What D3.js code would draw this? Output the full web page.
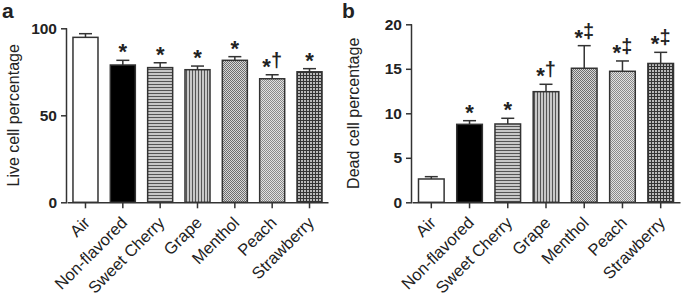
<!DOCTYPE html>
<html>
<head>
<meta charset="utf-8">
<script src="https://cdn.jsdelivr.net/npm/d3@7"></script>
<style>
  body { margin: 0; background: #fff; }
  svg { display: block; font-family: Arial, "Liberation Sans", sans-serif; }
</style>
</head>
<body>
<svg id="chart" width="685" height="297"></svg>
<script>
// cell viability per e-liquid flavour, two panels
const categories = ['Air', 'Non-flavored', 'Sweet Cherry', 'Grape', 'Menthol', 'Peach', 'Strawberry'];
const liveMean = [94.8, 78.9, 77.4, 76.2, 81.6, 71.0, 75.0];
const liveErr  = [2.1, 2.7, 2.8, 2.1, 2.1, 2.3, 1.8];
const liveSig  = ['', '*', '*', '*', '*', '*\u2020', '*'];
const liveTicks = [0, 50, 100];

const deadMean = [2.62, 8.76, 8.8, 12.43, 15.06, 14.72, 15.6];
const deadErr  = [0.26, 0.41, 0.64, 0.83, 2.54, 1.16, 1.25];
const deadSig  = ['', '*', '*', '*\u2020', '*\u2021', '*\u2021', '*\u2021'];
const deadTicks = [0, 5, 10, 15, 20];

const fills = ['#fff', '#000', 'url(#hstripe)', 'url(#vstripe)', 'url(#checkDark)', 'url(#checkLight)', 'url(#grid)'];
const INK = '#222';
const EDGE = '#333';
const FONT = 'Arial, "Liberation Sans", sans-serif';

const svg = d3.select('#chart');
const defs = svg.append('defs');

// horizontal stripes
let p = defs.append('pattern').attr('id', 'hstripe').attr('patternUnits', 'userSpaceOnUse')
    .attr('width', 4).attr('height', 3);
p.append('rect').attr('width', 4).attr('height', 3).attr('fill', '#c8c8c8');
p.append('rect').attr('width', 4).attr('height', 1).attr('fill', '#555');

// vertical stripes
p = defs.append('pattern').attr('id', 'vstripe').attr('patternUnits', 'userSpaceOnUse')
    .attr('width', 3).attr('height', 4);
p.append('rect').attr('width', 3).attr('height', 4).attr('fill', '#c8c8c8');
p.append('rect').attr('width', 1).attr('height', 4).attr('fill', '#555');

// fine checks
[['checkDark', '#6e6e6e', '#d8d8d8'], ['checkLight', '#8a8a8a', '#e2e2e2']].forEach(([id, a, b]) => {
    const c = defs.append('pattern').attr('id', id).attr('patternUnits', 'userSpaceOnUse')
        .attr('width', 2).attr('height', 2);
    c.append('rect').attr('width', 2).attr('height', 2).attr('fill', b);
    c.append('rect').attr('width', 1).attr('height', 1).attr('fill', a);
    c.append('rect').attr('x', 1).attr('y', 1).attr('width', 1).attr('height', 1).attr('fill', a);
});

// grid
p = defs.append('pattern').attr('id', 'grid').attr('patternUnits', 'userSpaceOnUse')
    .attr('width', 3).attr('height', 3);
p.append('rect').attr('width', 3).attr('height', 3).attr('fill', '#b8b8b8');
p.append('rect').attr('width', 3).attr('height', 1).attr('fill', '#333');
p.append('rect').attr('width', 1).attr('height', 3).attr('fill', '#333');

function drawPanel(opts) {
    const { letter, letterX, x0, x1, yTop, yBottom, yMax, means, errs, sigs, ticks, yLabel, labelX, padOuter } = opts;

    const x = d3.scaleBand().domain(categories).range([x0, x1])
        .paddingInner(0.33).paddingOuter(padOuter);
    const y = d3.scaleLinear().domain([0, yMax]).range([yBottom, yTop]);

    const g = svg.append('g');

    // panel letter
    g.append('text').attr('x', letterX).attr('y', 17.5)
        .attr('font-size', 21).attr('font-weight', 'bold').attr('fill', INK).text(letter);

    // y label
    g.append('text')
        .attr('transform', `translate(${labelX},${(yTop + yBottom) / 2}) rotate(-90)`)
        .attr('text-anchor', 'middle').attr('font-size', 16).attr('fill', INK).text(yLabel);

    const data = categories.map((c, i) => ({ c, m: means[i], e: errs[i], s: sigs[i], f: fills[i] }));
    const cx = d => x(d.c) + x.bandwidth() / 2;

    // error bars (upper only)
    const eb = g.append('g').attr('stroke', EDGE).attr('stroke-width', 1.5);
    eb.selectAll('line.v').data(data).join('line').attr('class', 'v')
        .attr('x1', cx).attr('x2', cx)
        .attr('y1', d => y(d.m)).attr('y2', d => y(d.m + d.e));
    eb.selectAll('line.cap').data(data).join('line').attr('class', 'cap')
        .attr('x1', d => cx(d) - 6.5).attr('x2', d => cx(d) + 6.5)
        .attr('y1', d => y(d.m + d.e)).attr('y2', d => y(d.m + d.e));

    // bars
    g.selectAll('rect.bar').data(data).join('rect').attr('class', 'bar')
        .attr('x', d => x(d.c))
        .attr('y', d => y(d.m))
        .attr('width', x.bandwidth())
        .attr('height', d => y(0) - y(d.m))
        .attr('fill', d => d.f)
        .attr('stroke', EDGE).attr('stroke-width', 1.5);

    // significance marks: star plus raised dagger
    const sig = g.selectAll('text.sig').data(data.filter(d => d.s)).join('text').attr('class', 'sig')
        .attr('x', cx)
        .attr('y', d => y(d.m + d.e) - 1)
        .attr('text-anchor', 'middle').attr('font-weight', 'bold').attr('fill', INK);
    sig.append('tspan').attr('font-size', 22).text(d => d.s[0]);
    sig.filter(d => d.s.length > 1).append('tspan')
        .attr('font-size', 20).attr('dy', -7).text(d => d.s.slice(1));

    // y axis
    const ya = g.append('g').attr('transform', `translate(${x0},0)`)
        .call(d3.axisLeft(y).tickValues(ticks).tickSize(6).tickPadding(4));
    ya.select('.domain').attr('d', `M-0.5,${yTop}V${yBottom}`);
    ya.selectAll('path, line').attr('stroke', EDGE).attr('stroke-width', 1.5);
    ya.selectAll('text').attr('font-size', 15.5).attr('font-weight', 'bold').attr('fill', INK)
        .attr('font-family', FONT);

    // x axis
    const xa = g.append('g').attr('transform', `translate(0,${yBottom})`)
        .call(d3.axisBottom(x).tickSize(6).tickSizeOuter(0));
    xa.selectAll('path, line').attr('stroke', EDGE).attr('stroke-width', 1.5);
    xa.selectAll('text')
        .attr('font-size', 16.5).attr('fill', INK)
        .attr('font-family', FONT)
        .attr('text-anchor', 'end')
        .attr('y', 0).attr('dy', 0)
        .attr('transform', 'translate(5.5,21.5) rotate(-45)');
}

drawPanel({
    letter: 'a', letterX: 2, x0: 67, x1: 328, yTop: 28.3, yBottom: 202.3, yMax: 100,
    means: liveMean, errs: liveErr, sigs: liveSig, ticks: liveTicks,
    yLabel: 'Live cell percentage', labelX: 19, padOuter: 0.16
});

drawPanel({
    letter: 'b', letterX: 342, x0: 412, x1: 680, yTop: 24.3, yBottom: 202.3, yMax: 20,
    means: deadMean, errs: deadErr, sigs: deadSig, ticks: deadTicks,
    yLabel: 'Dead cell percentage', labelX: 359, padOuter: 0.17
});
</script>
</body>
</html>
